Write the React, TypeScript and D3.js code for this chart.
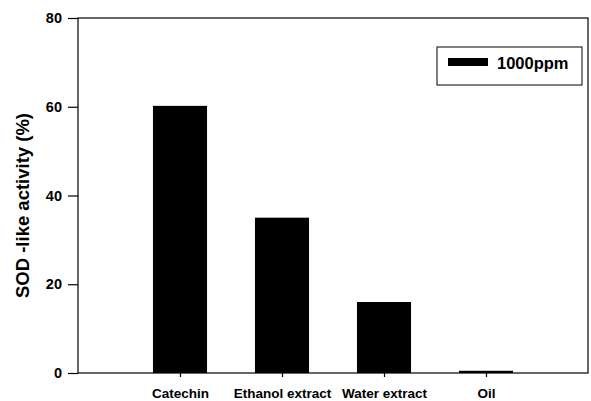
import { useEffect, useRef } from "react";
import * as d3 from "d3";

const categories = ["Catechin", "Ethanol extract", "Water extract", "Oil"];
const values = [60.2, 35, 16, 0.5];
const yTicks = [0, 20, 40, 60, 80];
const legendLabel = "1000ppm";
const yTitle = "SOD -like activity (%)";

export default function App() {
    const svgRef = useRef<SVGSVGElement | null>(null);

    useEffect(() => {
        if (!svgRef.current) return;
        const root = d3.select(svgRef.current);
        root.selectAll("*").remove();

        const width = 591;
        const height = 401;
        const margin = { top: 18, right: 3, bottom: 28, left: 78 };
        const font = "'Liberation Sans', Arial, sans-serif";

        const x = d3
            .scaleLinear()
            .domain([0, categories.length + 1])
            .range([margin.left, width - margin.right]);
        const y = d3
            .scaleLinear()
            .domain([0, 80])
            .range([height - margin.bottom, margin.top]);
        const barW = (x(1) - x(0)) * 0.53;

        const svg = root.attr("width", width).attr("height", height);

        // Frame
        svg.append("rect")
            .attr("x", x(0))
            .attr("y", y(80))
            .attr("width", x(categories.length + 1) - x(0))
            .attr("height", y(0) - y(80))
            .attr("fill", "none")
            .attr("stroke", "#000")
            .attr("stroke-width", 1.2);

        // Bars
        svg.selectAll(".bar")
            .data(values)
            .enter()
            .append("rect")
            .attr("class", "bar")
            .attr("x", (d, i) => x(i + 1) - barW / 2)
            .attr("y", (d) => y(d))
            .attr("width", barW)
            .attr("height", (d) => y(0) - y(d))
            .attr("fill", "#000");

        // Y axis
        const yAxis = svg
            .append("g")
            .attr("transform", `translate(${x(0)},0)`)
            .call(
                d3
                    .axisLeft(y)
                    .tickValues(yTicks)
                    .tickSize(10)
                    .tickPadding(6)
                    .tickFormat(d3.format("d"))
            );
        yAxis.select(".domain").remove();
        yAxis.selectAll("line").attr("stroke-width", 1.2);
        yAxis
            .selectAll("text")
            .attr("font-family", font)
            .attr("font-weight", "bold")
            .attr("font-size", 14.5)
            .attr("fill", "#000");

        // X axis ticks
        const xAxis = svg
            .append("g")
            .attr("transform", `translate(0,${y(0)})`)
            .call(
                d3
                    .axisBottom(x)
                    .tickValues(categories.map((c, i) => i + 1))
                    .tickSize(4)
                    .tickPadding(11)
                    .tickFormat((d) => categories[(d as number) - 1])
            );
        xAxis.select(".domain").remove();
        xAxis.selectAll("line").attr("stroke-width", 1.2);
        xAxis
            .selectAll("text")
            .attr("font-family", font)
            .attr("font-weight", "bold")
            .attr("font-size", 13.5)
            .attr("fill", "#000");

        // Y title
        svg.append("text")
            .attr("transform", `translate(29,${(y(0) + y(80)) / 2 + 10}) rotate(-90)`)
            .attr("text-anchor", "middle")
            .attr("font-family", font)
            .attr("font-weight", "bold")
            .attr("font-size", 18.5)
            .text(yTitle);

        // Legend
        const lg = svg.append("g").attr("transform", "translate(437,47)");
        lg.append("rect")
            .attr("width", 145)
            .attr("height", 38)
            .attr("fill", "#fff")
            .attr("stroke", "#000")
            .attr("stroke-width", 1);
        lg.append("rect")
            .attr("x", 11)
            .attr("y", 11)
            .attr("width", 40)
            .attr("height", 8)
            .attr("fill", "#000");
        lg.append("text")
            .attr("x", 60)
            .attr("y", 21.5)
            .attr("font-family", font)
            .attr("font-weight", "bold")
            .attr("font-size", 16.5)
            .text(legendLabel);
    }, []);

    return (
        <svg
            ref={svgRef}
            style={{ position: "absolute", left: 0, top: 0 }}
        />
    );
}
